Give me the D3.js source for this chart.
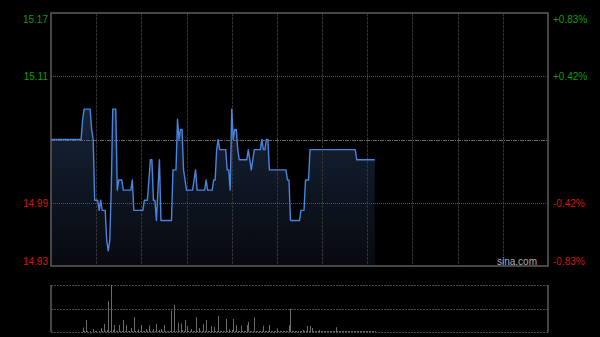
<!DOCTYPE html>
<html>
<head>
<meta charset="utf-8">
<script src="https://cdn.jsdelivr.net/npm/d3@7/dist/d3.min.js"></script>
<style>
  body { margin: 0; background: #000; }
  svg { display: block; }
  text { font-family: "Liberation Sans", Arial, sans-serif; font-size: 10px; }
</style>
</head>
<body>
<script>
// minute prices since 9:30 (lunch removed), HK session = 330 minutes
var prices = [
  15.05, 15.05, 15.05, 15.05, 15.05, 15.05, 15.05, 15.05, 15.05, 15.05,
  15.05, 15.05, 15.05, 15.05, 15.05, 15.05, 15.05, 15.05, 15.05, 15.05,
  15.05, 15.07, 15.08, 15.08, 15.08, 15.08, 15.08, 15.06, 15.05, 14.99,
  14.99, 14.99, 14.98, 14.99, 14.98, 14.98, 14.98, 14.95, 14.94, 14.95,
  15.00, 15.08, 15.08, 15.08, 15.00, 15.01, 15.01, 15.01, 15.00, 15.00,
  15.00, 15.00, 15.00, 15.00, 15.01, 14.98, 14.98, 14.98, 14.98, 14.98,
  14.98, 14.98, 14.99, 14.99, 14.99, 15.01, 15.03, 15.03, 14.99, 14.99,
  14.97, 15.00, 15.03, 14.97, 14.97, 14.97, 14.97, 14.97, 14.97, 14.97,
  14.97, 15.02, 15.02, 15.02, 15.07, 15.05, 15.06, 15.06, 15.02, 15.01,
  15.00, 15.00, 15.00, 15.00, 15.00, 15.01, 15.02, 15.00, 15.00, 15.00,
  15.00, 15.00, 15.00, 15.01, 15.00, 15.00, 15.00, 15.00, 15.01, 15.01,
  15.04, 15.05, 15.04, 15.04, 15.04, 15.04, 15.04, 15.02, 15.02, 15.00,
  15.08, 15.05, 15.06, 15.06, 15.04, 15.03, 15.03, 15.03, 15.03, 15.03,
  15.03, 15.04, 15.03, 15.02, 15.03, 15.04, 15.04, 15.04, 15.04, 15.04,
  15.05, 15.04, 15.04, 15.05, 15.05, 15.02, 15.02, 15.02, 15.02, 15.02,
  15.02, 15.02, 15.02, 15.02, 15.02, 15.02, 15.02, 15.01, 15.01, 14.97,
  14.97, 14.97, 14.97, 14.97, 14.97, 14.97, 14.98, 14.98, 14.98, 15.01,
  15.01, 15.01, 15.04, 15.04, 15.04, 15.04, 15.04, 15.04, 15.04, 15.04,
  15.04, 15.04, 15.04, 15.04, 15.04, 15.04, 15.04, 15.04, 15.04, 15.04,
  15.04, 15.04, 15.04, 15.04, 15.04, 15.04, 15.04, 15.04, 15.04, 15.04,
  15.04, 15.04, 15.04, 15.03, 15.03, 15.03, 15.03, 15.03, 15.03, 15.03,
  15.03, 15.03, 15.03, 15.03, 15.03, 15.03
];

var volumes = [
  0, 0, 0, 0, 0, 0, 0, 0, 0, 0,
  0, 0, 0, 0, 0, 0, 0, 0, 0, 0,
  0, 45, 10, 120, 10, 0, 10, 0, 30, 10,
  10, 0, 10, 40, 10, 80, 10, 20, 310, 10,
  470, 20, 70, 10, 10, 70, 10, 10, 120, 10,
  70, 10, 10, 40, 10, 150, 10, 10, 30, 10,
  70, 10, 10, 30, 10, 65, 10, 10, 30, 10,
  80, 10, 20, 30, 10, 70, 10, 10, 10, 10,
  215, 10, 270, 10, 93, 10, 83, 20, 10, 120,
  60, 10, 10, 30, 10, 10, 147, 10, 40, 10,
  10, 77, 10, 120, 10, 10, 60, 10, 53, 10,
  10, 160, 10, 10, 10, 10, 130, 10, 30, 10,
  20, 130, 10, 70, 10, 10, 63, 10, 10, 10,
  70, 103, 10, 10, 10, 147, 10, 10, 10, 10,
  10, 63, 10, 10, 10, 70, 10, 10, 10, 10,
  37, 10, 10, 10, 10, 10, 10, 10, 70, 233,
  10, 10, 10, 10, 10, 10, 10, 20, 10, 10,
  60, 10, 60, 40, 10, 10, 10, 10, 20, 10,
  10, 10, 10, 10, 10, 10, 10, 10, 10, 47,
  10, 10, 10, 10, 10, 10, 10, 10, 10, 10,
  10, 10, 10, 10, 10, 10, 10, 10, 10, 10,
  10, 10, 10, 10, 10, 10
];

var prevClose = 15.05;
var tickValues = [15.175, 15.1125, 14.9875, 14.925];
var priceLabels = ["15.17", "15.11", "14.99", "14.93"];
var pctLabels = ["+0.83%", "+0.42%", "-0.42%", "-0.83%"];
var totalMinutes = 330;

var svgWidth = 600;
var svgHeight = 337;

var svg = d3.select('body').append('svg')
  .attr('width', svgWidth)
  .attr('height', svgHeight)
  .style('background', '#000');

var chartLeft = 51, chartRight = 548;
var chartTop = 13, chartBottom = 266;
var volTop = 285, volBottom = 332;

var x = d3.scaleLinear().domain([0, totalMinutes]).range([chartLeft, chartRight]);
var y = d3.scaleLinear().domain([14.925, 15.175]).range([chartBottom, chartTop]);
var yVol = d3.scaleLinear().domain([0, d3.max(volumes)]).range([volBottom, volTop]);

var defs = svg.append('defs');
var grad = defs.append('linearGradient')
  .attr('id', 'areaGrad')
  .attr('gradientUnits', 'userSpaceOnUse')
  .attr('x1', 0).attr('x2', 0)
  .attr('y1', 105).attr('y2', chartBottom);
grad.append('stop').attr('offset', 0).attr('stop-color', '#16243a');
grad.append('stop').attr('offset', 1).attr('stop-color', '#07090e');

// area under price line
var area = d3.area()
  .x((d, i) => x(i))
  .y0(chartBottom)
  .y1(d => y(d));

svg.append('path')
  .datum(prices)
  .attr('d', area)
  .attr('fill', 'url(#areaGrad)');

// vertical grid, every 30 minutes
var gridG = svg.append('g');
gridG.selectAll('.vgrid')
  .data(d3.range(30, totalMinutes, 30))
  .enter().append('line')
  .attr('class', 'vgrid')
  .attr('x1', d => Math.round(x(d)) + 0.5)
  .attr('x2', d => Math.round(x(d)) + 0.5)
  .attr('y1', chartTop)
  .attr('y2', chartBottom)
  .attr('stroke', '#333')
  .attr('stroke-dasharray', '3,1');

// horizontal grid
gridG.selectAll('.hgrid')
  .data(tickValues.slice(1, 3))
  .enter().append('line')
  .attr('class', 'hgrid')
  .attr('x1', chartLeft).attr('x2', chartRight)
  .attr('y1', d => Math.round(y(d)) + 0.5)
  .attr('y2', d => Math.round(y(d)) + 0.5)
  .attr('stroke', '#555')
  .attr('stroke-dasharray', '1,1');

gridG.append('line')
  .attr('x1', chartLeft).attr('x2', chartRight)
  .attr('y1', Math.round(y(prevClose)) + 0.5)
  .attr('y2', Math.round(y(prevClose)) + 0.5)
  .attr('stroke', '#666')
  .attr('stroke-dasharray', '4,1,1,1');

// price line
var line = d3.line()
  .x((d, i) => x(i))
  .y(d => y(d));

svg.append('path')
  .datum(prices)
  .attr('d', line)
  .attr('fill', 'none')
  .attr('stroke', '#4a84dc')
  .attr('stroke-width', 1.4)
  .attr('stroke-linejoin', 'round');

// frame
svg.append('rect')
  .attr('x', chartLeft).attr('y', chartTop)
  .attr('width', chartRight - chartLeft).attr('height', chartBottom - chartTop)
  .attr('fill', 'none')
  .attr('stroke', '#5c5c5c')
  .attr('stroke-width', 1.5);

// axis labels
var labelDy = [10, 4, 4, -1];
svg.selectAll('.lbl')
  .data(priceLabels)
  .enter().append('text')
  .attr('class', 'lbl')
  .attr('x', 48)
  .attr('y', (d, i) => y(tickValues[i]) + labelDy[i])
  .attr('text-anchor', 'end')
  .attr('fill', (d, i) => i < 2 ? '#0a9e0a' : '#d41414')
  .text(d => d);

svg.selectAll('.pct')
  .data(pctLabels)
  .enter().append('text')
  .attr('class', 'pct')
  .attr('x', 553)
  .attr('y', (d, i) => y(tickValues[i]) + labelDy[i])
  .attr('fill', (d, i) => i < 2 ? '#0a9e0a' : '#d41414')
  .text(d => d);

svg.append('text')
  .attr('x', 537)
  .attr('y', 265)
  .attr('text-anchor', 'end')
  .attr('fill', '#b0b0b0')
  .text('sina.com');

// volume panel
var volG = svg.append('g');
volG.selectAll('.vline')
  .data([volTop, (volTop + volBottom) / 2, volBottom])
  .enter().append('line')
  .attr('class', 'vline')
  .attr('x1', chartLeft).attr('x2', chartRight)
  .attr('y1', d => Math.round(d) + 0.5)
  .attr('y2', d => Math.round(d) + 0.5)
  .attr('stroke', '#4a4a4a')
  .attr('stroke-dasharray', '2,1');

volG.selectAll('.vbar')
  .data(volumes)
  .enter().append('line')
  .attr('class', 'vbar')
  .attr('x1', (d, i) => Math.round(x(i)) + 0.5)
  .attr('x2', (d, i) => Math.round(x(i)) + 0.5)
  .attr('y1', volBottom)
  .attr('y2', d => yVol(d))
  .attr('stroke', '#6a6a6a')
  .attr('stroke-width', 1);

volG.selectAll('.vside')
  .data([chartLeft, chartRight])
  .enter().append('line')
  .attr('class', 'vside')
  .attr('x1', d => d).attr('x2', d => d)
  .attr('y1', volTop).attr('y2', volBottom)
  .attr('stroke', '#5c5c5c')
  .attr('stroke-width', 1.5);
</script>
</body>
</html>
